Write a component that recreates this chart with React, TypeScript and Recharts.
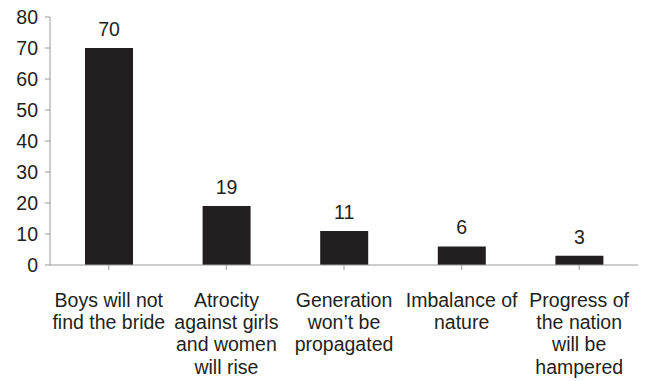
import { BarChart, Bar, XAxis, YAxis, LabelList } from "recharts";

const categories = ["boys", "atrocity", "generation", "imbalance", "progress"];
const values = [70, 19, 11, 6, 3];
const tickLabels: string[][] = [
  ["Boys will not", "find the bride"],
  ["Atrocity", "against girls", "and women", "will rise"],
  ["Generation", "won\u2019t be", "propagated"],
  ["Imbalance of", "nature"],
  ["Progress of", "the nation", "will be", "hampered"],
];
const yTicks = [0, 10, 20, 30, 40, 50, 60, 70, 80];

const data = categories.map((c, i) => ({ key: c, value: values[i] }));

const INK = "#231f20";
const AXIS = "#9a9a9a";
const FONT = "'Liberation Sans', Arial, sans-serif";
const FS = 19.5;

const CategoryTick = ({ x, y, index }: any) => {
  const lines = tickLabels[index] || [];
  return (
    <g>
      {lines.map((line, i) => (
        <text
          key={i}
          x={x}
          y={y + 35 + i * 22.2}
          textAnchor="middle"
          fill={INK}
          fontSize={FS}
          fontFamily={FONT}
        >
          {line}
        </text>
      ))}
    </g>
  );
};

export default function App() {
  return (
    <div style={{ position: "absolute", left: 0, top: 0, width: 649, height: 381, background: "#fff" }}>
      <BarChart
        width={649}
        height={381}
        data={data}
        margin={{ top: 17, right: 11, bottom: 0, left: 0 }}
        barCategoryGap={0}
      >
        <XAxis
          dataKey="key"
          interval={0}
          stroke={AXIS}
          tickSize={5}
          tickLine={{ stroke: AXIS }}
          tick={<CategoryTick />}
          height={116}
        />
        <YAxis
          width={50}
          domain={[0, 80]}
          ticks={yTicks}
          interval={0}
          stroke={AXIS}
          tickSize={5}
          tickMargin={7}
          tickLine={{ stroke: AXIS }}
          tick={{ fill: INK, fontSize: FS, fontFamily: FONT }}
        />
        <Bar dataKey="value" fill={INK} barSize={48} isAnimationActive={false}>
          <LabelList
            dataKey="value"
            position="top"
            offset={12}
            fill={INK}
            fontSize={FS}
            fontFamily={FONT}
          />
        </Bar>
      </BarChart>
    </div>
  );
}
